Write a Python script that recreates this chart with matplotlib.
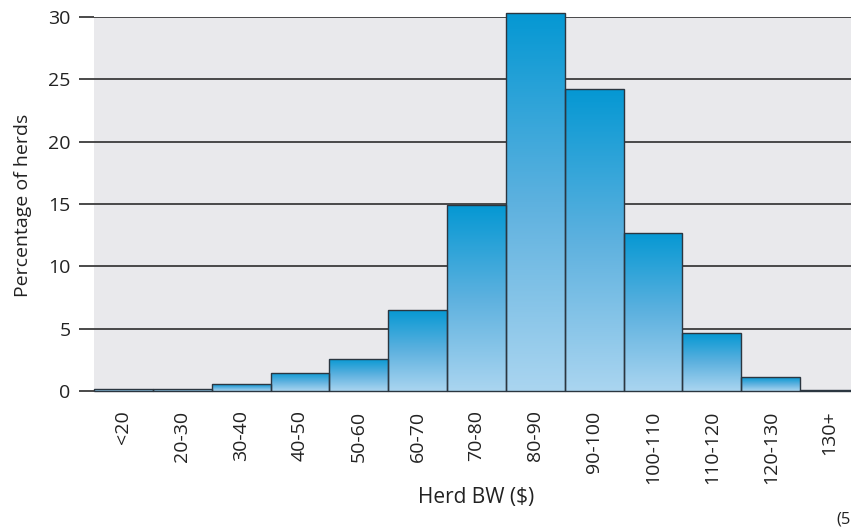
import numpy as np
import matplotlib
matplotlib.use("Agg")
import matplotlib.pyplot as plt
from matplotlib.colors import LinearSegmentedColormap
from matplotlib.patches import Rectangle

categories = ["<20", "20-30", "30-40", "40-50", "50-60", "60-70", "70-80",
              "80-90", "90-100", "100-110", "110-120", "120-130", "130+"]
values = [0.2, 0.2, 0.55, 1.45, 2.6, 6.5, 14.9, 30.3, 24.2, 12.7, 4.65, 1.1, 0.12]
yticks = [0, 5, 10, 15, 20, 25, 30]

plt.rcParams['font.family'] = ['Open Sans', 'DejaVu Sans']

fig = plt.figure(figsize=(8.51, 5.27), dpi=100)
ax = fig.add_axes([94/851, 1-391/527, (859-94)/851, (391-17)/527])
ax.set_facecolor('#e9e9ec')
for s in ax.spines.values():
    s.set_visible(False)

x = np.arange(len(categories))

cmap = LinearSegmentedColormap.from_list('g', ['#aad5f0', '#5db1df', '#0598d3'])
grad = np.linspace(0, 1, 256).reshape(-1, 1)

for xi, v in zip(x, values):
    rect = Rectangle((xi - 0.5, 0), 1.0, v, facecolor='none',
                     edgecolor='#2b3640', linewidth=1.0, zorder=4, clip_on=False)
    ax.add_patch(rect)
    im = ax.imshow(grad, cmap=cmap, origin='lower', aspect='auto',
                   extent=(xi - 0.5, xi + 0.5, 0, v), zorder=3, interpolation='bilinear')
    im.set_clip_path(rect)
ax.set_xlim(-0.5, len(categories) - 0.5)
ax.set_ylim(0, 30)

ax.set_yticks(yticks)
ax.set_yticklabels([str(t) for t in yticks], fontsize=14, color='#222222')
ax.yaxis.grid(True, color='#3c3c3c', linewidth=1.3, zorder=1)
ax.set_axisbelow(True)
ax.tick_params(axis='y', length=11, width=1.3, color='#3c3c3c', pad=6)

ax.set_xticks(x)
ax.set_xticklabels(categories, rotation=90, fontsize=14, color='#222222')
ax.tick_params(axis='x', length=0, pad=14)

fig.text(23/851, 1-205/527, 'Percentage of herds', fontsize=14, color='#222222',
         ha='center', va='center', rotation=90)
fig.text(476/851, 1-498/527, 'Herd BW ($)', fontsize=15, color='#222222',
         ha='center', va='center')
fig.text(836/851, 0.0, '(5', fontsize=12, color='#222222', ha='left', va='bottom')

fig.savefig('out.png', dpi=100)
